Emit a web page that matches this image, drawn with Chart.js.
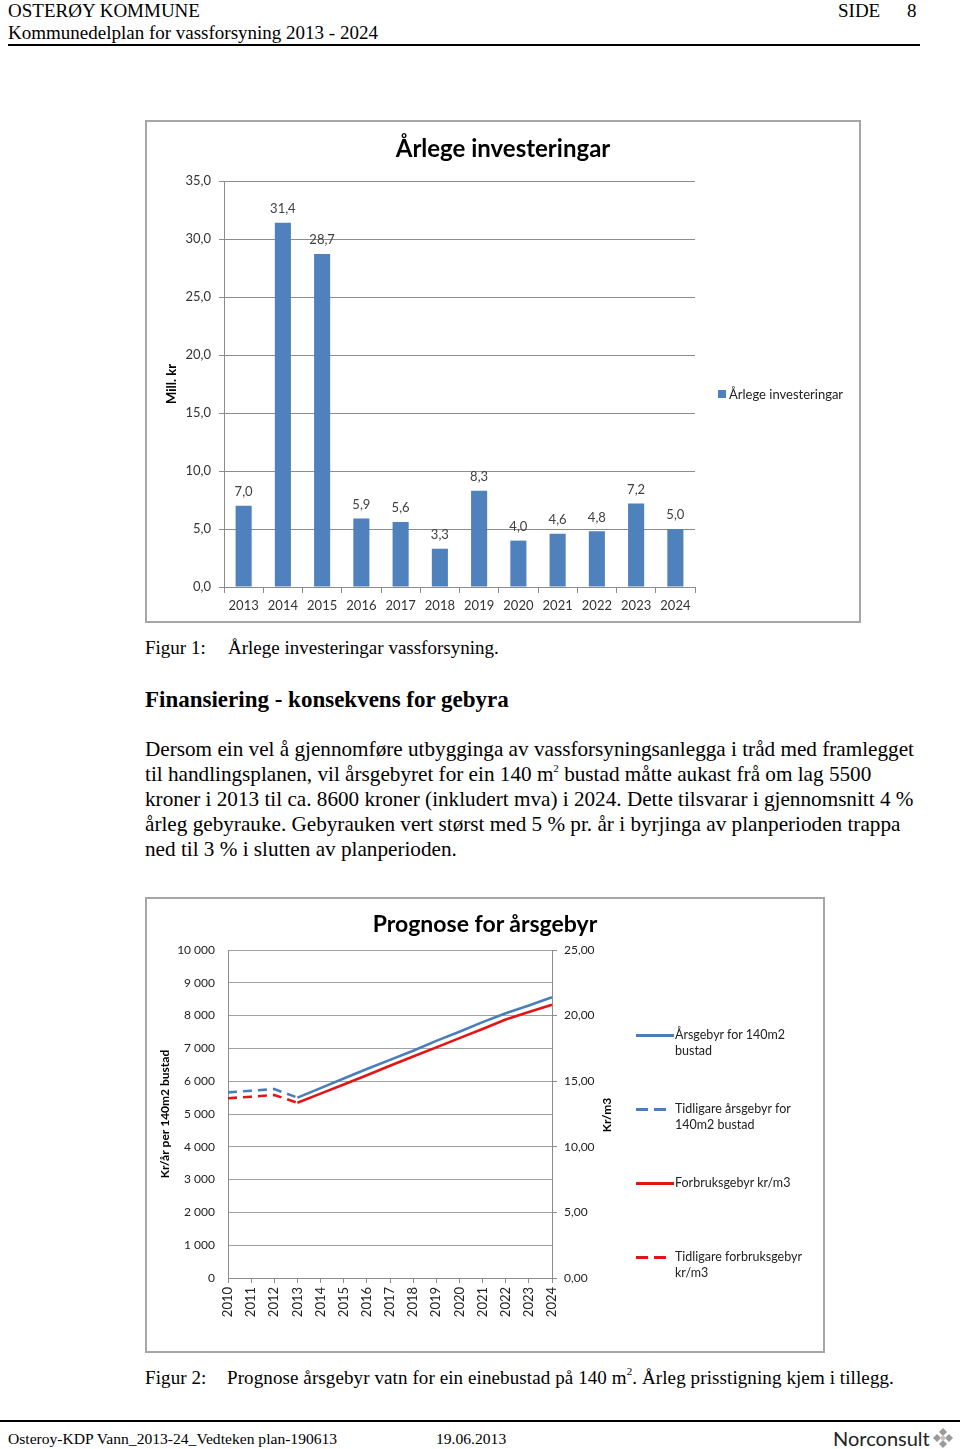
<!DOCTYPE html>
<html>
<head>
<meta charset="utf-8">
<script src="https://cdn.jsdelivr.net/npm/chart.js@4.4.0/dist/chart.umd.min.js"></script>
<style>
body { margin:0; width:960px; height:1449px; position:relative; background:#fff; overflow:hidden;
       font-family:"Liberation Serif","Times New Roman",serif; color:#000; }
.abs { position:absolute; white-space:nowrap; }
.rule { position:absolute; background:#000; height:2px; }
.box { position:absolute; border:2px solid #a6a6a6; box-sizing:border-box; }
canvas { position:absolute; }
.ctitle { position:absolute; font-family:Lato,sans-serif; font-weight:bold; color:#000;
          transform:translateX(-50%); white-space:nowrap; line-height:28px; }
.para { position:absolute; left:145px; width:800px; font-size:21.2px; line-height:25px; }
.para div { white-space:nowrap; }
sup { font-size:11px; line-height:0; vertical-align:9px; }
.leg { position:absolute; font-family:Lato,sans-serif; font-size:12.5px; line-height:16px; color:#222; white-space:nowrap; }
.leg .s { position:absolute; height:3px; }
</style>
</head>
<body>

<!-- sidehovud -->
<div class="abs" style="left:8px;top:0px;font-size:19px;line-height:22px;">OSTERØY KOMMUNE</div>
<div class="abs" style="left:838px;top:0px;font-size:19px;line-height:22px;">SIDE</div>
<div class="abs" style="left:907px;top:0px;font-size:19px;line-height:22px;">8</div>
<div class="abs" style="left:8px;top:22px;font-size:19px;line-height:22px;">Kommunedelplan for vassforsyning 2013 - 2024</div>
<div class="rule" style="left:8px;top:44px;width:912px;"></div>

<!-- figur 1 -->
<div class="box" style="left:145px;top:120px;width:716px;height:503px;"></div>
<canvas id="invest" width="716" height="503" style="left:145px;top:120px;"></canvas>
<div class="ctitle" style="left:503px;top:134px;font-size:24px;">Årlege investeringar</div>
<div class="leg" style="left:718px;top:386px;font-size:13px;">
  <span style="position:absolute;left:0;top:4px;width:8px;height:8px;background:#4F81BD;"></span>
  <span style="position:absolute;left:11px;top:0;">Årlege investeringar</span>
</div>

<div class="abs" style="left:145px;top:637px;font-size:19px;line-height:22px;">Figur 1:</div>
<div class="abs" style="left:228px;top:637px;font-size:19px;line-height:22px;">Årlege investeringar vassforsyning.</div>

<div class="abs" style="left:145px;top:687px;font-size:23px;line-height:26px;font-weight:bold;">Finansiering - konsekvens for gebyra</div>

<div class="para" style="top:737px;">
  <div>Dersom ein vel å gjennomføre utbygginga av vassforsyningsanlegga i tråd med framlegget</div>
  <div>til handlingsplanen, vil årsgebyret for ein 140 m<sup>2</sup> bustad måtte aukast frå om lag 5500</div>
  <div>kroner i 2013 til ca. 8600 kroner (inkludert mva) i 2024. Dette tilsvarar i gjennomsnitt 4 %</div>
  <div>årleg gebyrauke. Gebyrauken vert størst med 5 % pr. år i byrjinga av planperioden trappa</div>
  <div>ned til 3 % i slutten av planperioden.</div>
</div>

<!-- figur 2 -->
<div class="box" style="left:145px;top:897px;width:680px;height:456px;"></div>
<canvas id="fee" width="680" height="456" style="left:145px;top:897px;"></canvas>
<div class="ctitle" style="left:485px;top:909px;font-size:23px;">Prognose for årsgebyr</div>
<div class="abs" style="left:607px;top:1115px;font-family:Lato,sans-serif;font-size:12px;font-weight:bold;line-height:14px;transform:translate(-50%,-50%) rotate(-90deg);">Kr/m3</div>
<div id="feeLegend"></div>

<div class="abs" style="left:145px;top:1367px;font-size:19px;line-height:22px;letter-spacing:0.1px;">Figur 2:</div>
<div class="abs" style="left:227px;top:1367px;font-size:19px;line-height:22px;letter-spacing:0.1px;">Prognose årsgebyr vatn for ein einebustad på 140 m<sup>2</sup>. Årleg prisstigning kjem i tillegg.</div>

<!-- sidefot -->
<div class="rule" style="left:0;top:1420px;width:960px;"></div>
<div class="abs" style="left:8px;top:1430px;font-size:15.6px;line-height:18px;">Osteroy-KDP Vann_2013-24_Vedteken plan-190613</div>
<div class="abs" style="left:436px;top:1430px;font-size:15.6px;line-height:18px;">19.06.2013</div>
<div class="abs" style="left:833px;top:1426px;font-family:Lato,sans-serif;font-size:20px;line-height:24px;color:#222;">Norconsult</div>
<svg class="abs" style="left:931px;top:1428px;" width="24" height="21" viewBox="0 0 24 21">
  <g fill="#9a9a9a">
    <polygon points="12,0 16,4 12,8 8,4"/>
    <polygon points="6,6 10,10 6,14 2,10"/>
    <polygon points="18,6 22,10 18,14 14,10"/>
    <polygon points="12,12 16,16 12,20 8,16"/>
    <polygon points="12,6.5 15,10 12,13.5 9,10" fill="#c4c4c4"/>
  </g>
</svg>

<script>
// Årlege investeringar, mill. kr
const investYears = ['2013', '2014', '2015', '2016', '2017', '2018', '2019', '2020', '2021', '2022', '2023', '2024'];
const investValues = [7.0, 31.4, 28.7, 5.9, 5.6, 3.3, 8.3, 4.0, 4.6, 4.8, 7.2, 5.0];

// Prognose for årsgebyr
const feeYears = ['2010', '2011', '2012', '2013', '2014', '2015', '2016', '2017', '2018', '2019', '2020', '2021', '2022', '2023', '2024'];
const annualFee     = [null, null, null, 5500, 5790, 6080, 6370, 6650, 6930, 7230, 7510, 7800, 8070, 8310, 8560];
const prevAnnualFee = [5660, 5710, 5760, 5500, null, null, null, null, null, null, null, null, null, null, null];
const usageFee      = [null, null, null, 13.36, 14.05, 14.75, 15.45, 16.18, 16.88, 17.58, 18.28, 18.98, 19.70, 20.28, 20.83];
const prevUsageFee  = [13.70, 13.82, 13.95, 13.36, null, null, null, null, null, null, null, null, null, null, null];

const BLUE = '#4F81BD';
const LINE_BLUE = '#4A7EBB';
const RED = '#E41414';
const GRID = '#8c8c8c';

Chart.defaults.font.family = 'Lato, sans-serif';
Chart.defaults.color = '#333';
Chart.defaults.animation = false;

const comma = (v, d) => v.toFixed(d).replace('.', ',');

// value labels above the bars
const barLabels = {
    id: 'barLabels',
    afterDatasetsDraw(chart) {
        const ctx = chart.ctx;
        const meta = chart.getDatasetMeta(0);
        ctx.save();
        ctx.font = '13px Lato';
        ctx.fillStyle = '#404040';
        ctx.textAlign = 'center';
        ctx.textBaseline = 'middle';
        meta.data.forEach((bar, i) => {
            ctx.fillText(comma(investValues[i], 1), bar.x, bar.y - 14);
        });
        ctx.restore();
    }
};

new Chart(document.getElementById('invest'), {
    type: 'bar',
    data: {
        labels: investYears,
        datasets: [{
            label: 'Årlege investeringar',
            data: investValues,
            backgroundColor: BLUE,
            barPercentage: 0.41,
            categoryPercentage: 1
        }]
    },
    options: {
        responsive: false,
        layout: { padding: { left: 0, right: 166, top: 61, bottom: 6 } },
        plugins: { legend: { display: false }, tooltip: { enabled: false } },
        scales: {
            x: {
                afterFit: s => { s.height = 30; },
                grid: { offset: true, drawOnChartArea: false, tickLength: 6, color: GRID },
                border: { color: GRID },
                ticks: { padding: 5, font: { size: 13 }, color: '#333' }
            },
            y: {
                min: 0, max: 35,
                afterFit: s => { s.width = 79; },
                grid: { color: GRID, tickLength: 5 },
                border: { color: GRID },
                ticks: { stepSize: 5, padding: 8, font: { size: 13 }, color: '#333',
                         callback: v => comma(v, 1) },
                title: { display: true, text: 'Mill. kr', font: { size: 13, weight: 'bold' },
                         color: '#000', padding: { top: 19, bottom: 0 } }
            }
        }
    },
    plugins: [barLabels]
});

const feeSets = [
    { label: 'Årsgebyr for 140m2|bustad', data: annualFee, borderColor: LINE_BLUE, yAxisID: 'y', dash: [] },
    { label: 'Tidligare årsgebyr for|140m2 bustad', data: prevAnnualFee, borderColor: LINE_BLUE, yAxisID: 'y', dash: [9, 6] },
    { label: 'Forbruksgebyr kr/m3', data: usageFee, borderColor: RED, yAxisID: 'y2', dash: [] },
    { label: 'Tidligare forbruksgebyr|kr/m3', data: prevUsageFee, borderColor: RED, yAxisID: 'y2', dash: [9, 6] }
];

new Chart(document.getElementById('fee'), {
    type: 'line',
    data: {
        labels: feeYears,
        datasets: feeSets.map(d => ({
            label: d.label,
            data: d.data,
            borderColor: d.borderColor,
            borderDash: d.dash,
            borderWidth: 2.6,
            pointRadius: 0,
            tension: 0,
            yAxisID: d.yAxisID
        }))
    },
    options: {
        responsive: false,
        layout: { padding: { left: 0, right: 203, top: 53, bottom: 15 } },
        plugins: { legend: { display: false }, tooltip: { enabled: false } },
        scales: {
            x: {
                offset: false,
                afterFit: s => { s.height = 60; },
                grid: { drawOnChartArea: false, tickLength: 5, color: GRID },
                border: { color: GRID },
                ticks: { autoSkip: false, minRotation: 90, maxRotation: 90, padding: 4,
                         font: { size: 13 }, color: '#222' }
            },
            y: {
                position: 'left',
                min: 0, max: 10000,
                afterFit: s => { s.width = 83; },
                grid: { color: '#a0a0a0', drawTicks: false },
                border: { color: GRID },
                ticks: { stepSize: 1000, padding: 13, font: { size: 12 }, color: '#222',
                         callback: v => v >= 1000 ? Math.floor(v / 1000) + ' ' + String(v % 1000).padStart(3, '0') : String(v) },
                title: { display: true, text: 'Kr/år per 140m2 bustad', font: { size: 12, weight: 'bold' },
                         color: '#000', padding: { top: 13, bottom: 0 } }
            },
            y2: {
                position: 'right',
                min: 0, max: 25,
                afterFit: s => { s.width = 70; },
                grid: { drawOnChartArea: false, tickLength: 5, color: GRID },
                border: { color: GRID },
                ticks: { stepSize: 5, padding: 7, font: { size: 12 }, color: '#222',
                         callback: v => comma(v, 2) }
            }
        }
    }
});

// legend for figur 2
const legendTops = [1027, 1101, 1175, 1249];
const legendEl = document.getElementById('feeLegend');
feeSets.forEach((d, i) => {
    const item = document.createElement('div');
    item.className = 'leg';
    item.style.left = '636px';
    item.style.top = legendTops[i] + 'px';
    let sample;
    if (d.dash.length) {
        sample = `<span class="s" style="left:0;top:7px;width:12px;background:${d.borderColor}"></span>` +
                 `<span class="s" style="left:18px;top:7px;width:12px;background:${d.borderColor}"></span>`;
    } else {
        sample = `<span class="s" style="left:0;top:7px;width:38px;background:${d.borderColor}"></span>`;
    }
    item.innerHTML = sample + `<span style="position:absolute;left:39px;top:0;">${d.label.split('|').join('<br>')}</span>`;
    legendEl.appendChild(item);
});
</script>
</body>
</html>
